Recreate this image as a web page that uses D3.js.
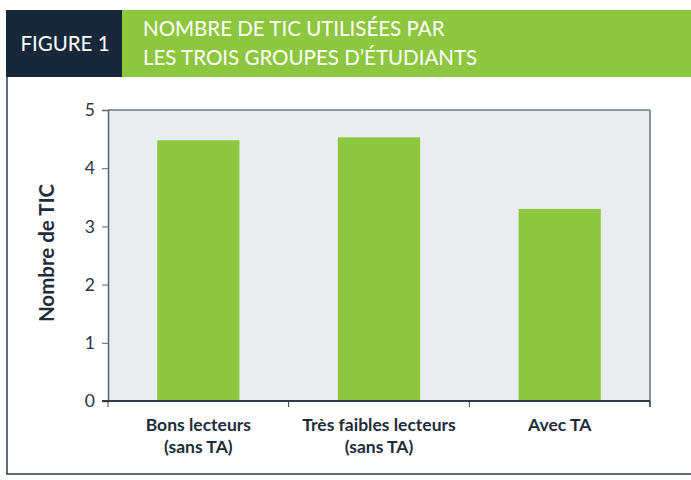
<!DOCTYPE html>
<html>
<head>
<meta charset="utf-8">
<script src="https://cdn.jsdelivr.net/npm/d3@7"></script>
<style>
  body { margin: 0; background: #fff; }
  svg { display: block; font-family: Lato, "Open Sans", sans-serif; }
</style>
</head>
<body>
<script>
(function(){

// chart data
var categories = [["Bons lecteurs", "(sans TA)"], ["Très faibles lecteurs", "(sans TA)"], ["Avec TA"]];
var values = [4.48, 4.53, 3.30];
var yTicks = [0, 1, 2, 3, 4, 5];
var figureLabel = "FIGURE 1";
var titleLines = ["NOMBRE DE TIC UTILISÉES PAR", "LES TROIS GROUPES D\u2019ÉTUDIANTS"];
var yLabel = "Nombre de TIC";

window.onload = drawChart();

function drawChart(){
    var width = 691, height = 480;
    var green = "#8dc63f", dark = "#17283a";

    var svg = d3.select("body")
        .append("svg")
        .attr("width", width)
        .attr("height", height);

    //header boxes
    svg.append("rect")
        .attr("x", 6).attr("y", 10)
        .attr("width", 116).attr("height", 67)
        .attr("fill", dark);
    svg.append("rect")
        .attr("x", 122).attr("y", 10)
        .attr("width", width - 122).attr("height", 67)
        .attr("fill", green);

    svg.append("text")
        .attr("x", 65).attr("y", 51)
        .attr("text-anchor", "middle")
        .attr("fill", "#fff")
        .attr("font-size", 20.5)
        .text(figureLabel);

    svg.selectAll(".title")
        .data(titleLines)
        .enter()
        .append("text")
        .attr("class", "title")
        .attr("x", 143)
        .attr("y", function(d, i){ return 36 + i * 29; })
        .attr("fill", "#fff")
        .attr("font-size", 20.5)
        .text(function(d){ return d; });

    //frame lines
    svg.append("line")
        .attr("x1", 7).attr("x2", 7)
        .attr("y1", 77).attr("y2", 474)
        .attr("stroke", "#2c3b48").attr("stroke-width", 1.5);
    svg.append("line")
        .attr("x1", 6).attr("x2", width)
        .attr("y1", 474).attr("y2", 474)
        .attr("stroke", "#2c3b48").attr("stroke-width", 1.5);

    //plot area
    var left = 108, right = 650, top = 110, bottom = 401;

    var x = d3.scaleBand()
        .domain(d3.range(categories.length))
        .range([left, right])
        .paddingInner(0.545)
        .paddingOuter(0.2725);

    var y = d3.scaleLinear()
        .domain([0, 5])
        .range([bottom, top]);

    svg.append("rect")
        .attr("x", left).attr("y", top)
        .attr("width", right - left).attr("height", bottom - top)
        .attr("fill", "#e9edf0");

    //top border
    svg.append("line")
        .attr("x1", left).attr("x2", right)
        .attr("y1", top).attr("y2", top)
        .attr("stroke", "#2e3c48").attr("stroke-width", 1.2);

    //right border, gray
    svg.append("line")
        .attr("x1", right).attr("x2", right)
        .attr("y1", top).attr("y2", bottom + 6)
        .attr("stroke", "#86919a").attr("stroke-width", 2);

    //bars
    svg.selectAll(".bar")
        .data(values)
        .enter()
        .append("rect")
        .attr("class", "bar")
        .attr("x", function(d, i){ return x(i); })
        .attr("y", function(d){ return y(d); })
        .attr("width", x.bandwidth())
        .attr("height", function(d){ return y(0) - y(d); })
        .attr("fill", green);

    //y axis
    var yAxis = svg.append("g")
        .attr("transform", "translate(" + left + ",0)")
        .call(d3.axisLeft(y).tickValues(yTicks).tickSize(6).tickPadding(7).tickFormat(d3.format("d")));
    yAxis.select(".domain").attr("stroke", "#5a6670").attr("stroke-width", 1.5);
    yAxis.selectAll(".tick line").attr("stroke", "#5a6670");
    yAxis.selectAll(".tick text")
        .attr("font-size", 17.5)
        .attr("fill", "#2b3540")
        .attr("font-family", "Lato, sans-serif");

    //x axis baseline and category dividers
    var step = x.step();
    var dividers = d3.range(categories.length + 1).map(function(i){ return left + i * step; });
    svg.append("line")
        .attr("x1", left - 6).attr("x2", right)
        .attr("y1", bottom).attr("y2", bottom)
        .attr("stroke", "#2e3c48").attr("stroke-width", 2);
    svg.selectAll(".xtick")
        .data(dividers)
        .enter()
        .append("line")
        .attr("class", "xtick")
        .attr("x1", function(d){ return d; }).attr("x2", function(d){ return d; })
        .attr("y1", bottom).attr("y2", bottom + 6)
        .attr("stroke", "#2e3c48").attr("stroke-width", 1);

    //category labels
    var labels = svg.selectAll(".xlabel")
        .data(categories)
        .enter()
        .append("text")
        .attr("class", "xlabel")
        .attr("text-anchor", "middle")
        .attr("font-size", 17.5)
        .attr("font-weight", "bold")
        .attr("fill", "#1e2c3a");
    labels.each(function(d, i){
        d3.select(this).selectAll("tspan")
            .data(d)
            .enter()
            .append("tspan")
            .attr("x", x(i) + x.bandwidth() / 2)
            .attr("y", function(t, j){ return 431 + j * 22; })
            .text(function(t){ return t; });
    });

    //y axis title
    svg.append("text")
        .attr("transform", "translate(54,253) rotate(-90)")
        .attr("text-anchor", "middle")
        .attr("font-size", 20.5)
        .attr("font-weight", "bold")
        .attr("fill", "#1e2c3a")
        .text(yLabel);
}

})();
</script>
</body>
</html>
